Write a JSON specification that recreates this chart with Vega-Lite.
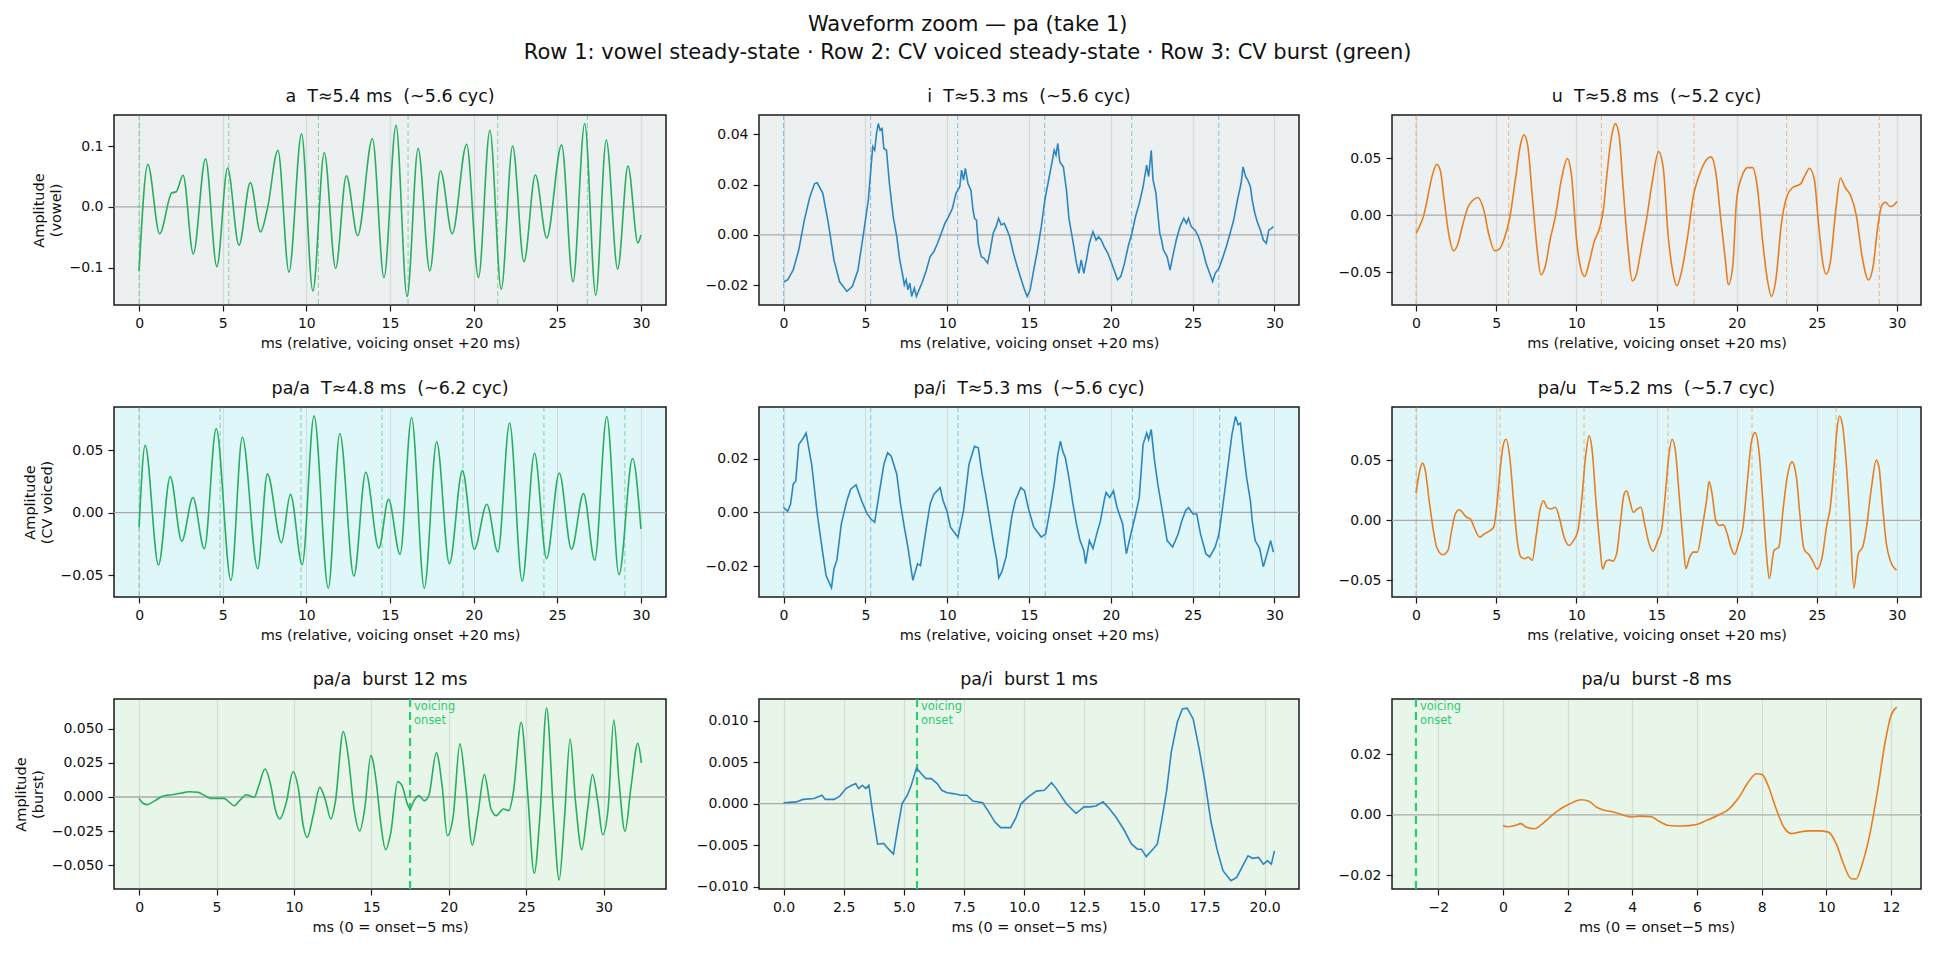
{
"$schema": "https://vega.github.io/schema/vega-lite/v6.json",
"background": "white",
"padding": {"left": 12, "top": 14, "right": 10, "bottom": 8},
"title": {"text": ["Waveform zoom — pa (take 1)", "Row 1: vowel steady-state · Row 2: CV voiced steady-state · Row 3: CV burst (green)"], "fontSize": 21, "fontWeight": "normal", "lineHeight": 28, "anchor": "middle", "offset": 24, "color": "#111"},
"config": {
 "font": "DejaVu Sans",
 "view": {"stroke": "#1a1a1a", "strokeWidth": 1.5},
 "axis": {"domain": false, "tickColor": "#1a1a1a", "tickSize": 6, "tickWidth": 1.2, "labelFontSize": 14, "labelColor": "#111", "labelPadding": 5, "titleFontSize": 14.5, "titleFontWeight": "normal", "titleColor": "#111", "titlePadding": 6, "gridColor": "#b0b0b0", "gridOpacity": 0.35, "gridWidth": 1.2, "labelFlush": false, "labelOverlap": false},
 "title": {"fontSize": 17.5, "fontWeight": "normal", "color": "#111", "offset": 9}
},
"datasets": {
"marks": [
{"p":"a","t":0},{"p":"a","t":5.36},{"p":"a","t":10.72},{"p":"a","t":16.08},{"p":"a","t":21.44},{"p":"a","t":26.8},
{"p":"i","t":0},{"p":"i","t":5.32},{"p":"i","t":10.64},{"p":"i","t":15.96},{"p":"i","t":21.28},{"p":"i","t":26.6},
{"p":"u","t":0},{"p":"u","t":5.78},{"p":"u","t":11.56},{"p":"u","t":17.34},{"p":"u","t":23.12},{"p":"u","t":28.9},
{"p":"Ca","t":0},{"p":"Ca","t":4.84},{"p":"Ca","t":9.68},{"p":"Ca","t":14.52},{"p":"Ca","t":19.36},{"p":"Ca","t":24.2},{"p":"Ca","t":29.04},
{"p":"Ci","t":0},{"p":"Ci","t":5.33},{"p":"Ci","t":10.66},{"p":"Ci","t":15.99},{"p":"Ci","t":21.32},{"p":"Ci","t":26.65},
{"p":"Cu","t":0},{"p":"Cu","t":5.24},{"p":"Cu","t":10.48},{"p":"Cu","t":15.72},{"p":"Cu","t":20.96},{"p":"Cu","t":26.2},
{"p":"Ba","t":17.5},{"p":"Bi","t":5.55},{"p":"Bu","t":-2.69}
],
"wave": [
{"p":"a","t":0,"v":-0.105},{"p":"a","t":0.52,"v":0.070},{"p":"a","t":1.23,"v":-0.044},{"p":"a","t":1.95,"v":0.023},{"p":"a","t":2.22,"v":0.025},{"p":"a","t":2.63,"v":0.052},{"p":"a","t":3.24,"v":-0.077},{"p":"a","t":3.97,"v":0.079},{"p":"a","t":4.65,"v":-0.098},{"p":"a","t":5.29,"v":0.064},{"p":"a","t":5.97,"v":-0.063},{"p":"a","t":6.65,"v":0.040},{"p":"a","t":7.26,"v":-0.041},{"p":"a","t":7.67,"v":-0.003},{"p":"a","t":8.30,"v":0.093},{"p":"a","t":8.96,"v":-0.107},{"p":"a","t":9.71,"v":0.120},{"p":"a","t":10.39,"v":-0.138},{"p":"a","t":11.07,"v":0.089},{"p":"a","t":11.75,"v":-0.101},{"p":"a","t":12.39,"v":0.051},{"p":"a","t":13.07,"v":-0.047},{"p":"a","t":13.95,"v":0.112},{"p":"a","t":14.64,"v":-0.116},{"p":"a","t":15.36,"v":0.134},{"p":"a","t":16.02,"v":-0.147},{"p":"a","t":16.68,"v":0.096},{"p":"a","t":17.38,"v":-0.105},{"p":"a","t":18.02,"v":0.059},{"p":"a","t":18.72,"v":-0.044},{"p":"a","t":19.58,"v":0.103},{"p":"a","t":20.29,"v":-0.116},{"p":"a","t":20.97,"v":0.126},{"p":"a","t":21.65,"v":-0.135},{"p":"a","t":22.33,"v":0.100},{"p":"a","t":23.01,"v":-0.090},{"p":"a","t":23.69,"v":0.053},{"p":"a","t":24.37,"v":-0.051},{"p":"a","t":25.26,"v":0.102},{"p":"a","t":25.94,"v":-0.123},{"p":"a","t":26.64,"v":0.137},{"p":"a","t":27.30,"v":-0.145},{"p":"a","t":27.93,"v":0.110},{"p":"a","t":28.61,"v":-0.102},{"p":"a","t":29.23,"v":0.067},{"p":"a","t":29.82,"v":-0.059},{"p":"a","t":30.0,"v":-0.046},
{"p":"i","t":0,"v":-0.0187},{"p":"i","t":0.25,"v":-0.0178},{"p":"i","t":0.59,"v":-0.0139},{"p":"i","t":0.93,"v":-0.0059},{"p":"i","t":1.27,"v":0.0059},{"p":"i","t":1.61,"v":0.0152},{"p":"i","t":1.90,"v":0.0204},{"p":"i","t":2.06,"v":0.0207},{"p":"i","t":2.40,"v":0.0165},{"p":"i","t":2.74,"v":0.0046},{"p":"i","t":3.08,"v":-0.0099},{"p":"i","t":3.42,"v":-0.0185},{"p":"i","t":3.87,"v":-0.0224},{"p":"i","t":4.21,"v":-0.0204},{"p":"i","t":4.55,"v":-0.0139},{"p":"i","t":4.89,"v":0.0007},{"p":"i","t":5.18,"v":0.0139},{"p":"i","t":5.45,"v":0.0350},{"p":"i","t":5.57,"v":0.0336},{"p":"i","t":5.68,"v":0.0402},{"p":"i","t":5.79,"v":0.0442},{"p":"i","t":5.90,"v":0.0416},{"p":"i","t":6.02,"v":0.0422},{"p":"i","t":6.13,"v":0.0343},{"p":"i","t":6.29,"v":0.0336},{"p":"i","t":6.47,"v":0.0204},{"p":"i","t":6.70,"v":0.0073},{"p":"i","t":6.92,"v":-0.0007},{"p":"i","t":7.10,"v":-0.0099},{"p":"i","t":7.26,"v":-0.0152},{"p":"i","t":7.38,"v":-0.0198},{"p":"i","t":7.49,"v":-0.0178},{"p":"i","t":7.60,"v":-0.0218},{"p":"i","t":7.72,"v":-0.0191},{"p":"i","t":7.83,"v":-0.0244},{"p":"i","t":7.99,"v":-0.0211},{"p":"i","t":8.12,"v":-0.0244},{"p":"i","t":8.28,"v":-0.0218},{"p":"i","t":8.46,"v":-0.0191},{"p":"i","t":8.73,"v":-0.0139},{"p":"i","t":8.96,"v":-0.0086},{"p":"i","t":9.19,"v":-0.0066},{"p":"i","t":9.41,"v":-0.0033},{"p":"i","t":9.64,"v":0.0007},{"p":"i","t":9.86,"v":0.0046},{"p":"i","t":10.09,"v":0.0073},{"p":"i","t":10.32,"v":0.0106},{"p":"i","t":10.54,"v":0.0165},{"p":"i","t":10.77,"v":0.0191},{"p":"i","t":10.88,"v":0.0257},{"p":"i","t":11.0,"v":0.0218},{"p":"i","t":11.11,"v":0.0264},{"p":"i","t":11.27,"v":0.0204},{"p":"i","t":11.45,"v":0.0178},{"p":"i","t":11.58,"v":0.0099},{"p":"i","t":11.67,"v":0.0066},{"p":"i","t":11.79,"v":0.0059},{"p":"i","t":11.90,"v":-0.0033},{"p":"i","t":12.08,"v":-0.0086},{"p":"i","t":12.24,"v":-0.0092},{"p":"i","t":12.47,"v":-0.0112},{"p":"i","t":12.62,"v":-0.0066},{"p":"i","t":12.81,"v":0.0007},{"p":"i","t":12.99,"v":0.0033},{"p":"i","t":13.14,"v":0.0066},{"p":"i","t":13.30,"v":0.0040},{"p":"i","t":13.48,"v":0.0046},{"p":"i","t":13.66,"v":0.0020},{"p":"i","t":13.82,"v":-0.0007},{"p":"i","t":14.05,"v":-0.0073},{"p":"i","t":14.28,"v":-0.0125},{"p":"i","t":14.50,"v":-0.0172},{"p":"i","t":14.73,"v":-0.0218},{"p":"i","t":14.89,"v":-0.0244},{"p":"i","t":15.07,"v":-0.0218},{"p":"i","t":15.29,"v":-0.0139},{"p":"i","t":15.52,"v":-0.0059},{"p":"i","t":15.75,"v":0.0033},{"p":"i","t":15.97,"v":0.0139},{"p":"i","t":16.20,"v":0.0218},{"p":"i","t":16.43,"v":0.0297},{"p":"i","t":16.54,"v":0.0336},{"p":"i","t":16.65,"v":0.0317},{"p":"i","t":16.76,"v":0.0363},{"p":"i","t":16.88,"v":0.0290},{"p":"i","t":17.10,"v":0.0270},{"p":"i","t":17.29,"v":0.0178},{"p":"i","t":17.44,"v":0.0066},{"p":"i","t":17.67,"v":-0.0020},{"p":"i","t":17.90,"v":-0.0112},{"p":"i","t":18.05,"v":-0.0152},{"p":"i","t":18.19,"v":-0.0099},{"p":"i","t":18.35,"v":-0.0152},{"p":"i","t":18.51,"v":-0.0099},{"p":"i","t":18.69,"v":-0.0033},{"p":"i","t":18.91,"v":0.0013},{"p":"i","t":19.10,"v":-0.0020},{"p":"i","t":19.25,"v":-0.0007},{"p":"i","t":19.41,"v":-0.0020},{"p":"i","t":19.59,"v":-0.0046},{"p":"i","t":19.82,"v":-0.0073},{"p":"i","t":20.05,"v":-0.0112},{"p":"i","t":20.23,"v":-0.0145},{"p":"i","t":20.41,"v":-0.0178},{"p":"i","t":20.61,"v":-0.0165},{"p":"i","t":20.84,"v":-0.0112},{"p":"i","t":21.06,"v":-0.0046},{"p":"i","t":21.29,"v":0.0007},{"p":"i","t":21.51,"v":0.0073},{"p":"i","t":21.74,"v":0.0125},{"p":"i","t":21.97,"v":0.0191},{"p":"i","t":22.19,"v":0.0277},{"p":"i","t":22.31,"v":0.0231},{"p":"i","t":22.47,"v":0.0336},{"p":"i","t":22.58,"v":0.0218},{"p":"i","t":22.76,"v":0.0165},{"p":"i","t":22.87,"v":0.0086},{"p":"i","t":22.99,"v":0.0007},{"p":"i","t":23.10,"v":-0.0020},{"p":"i","t":23.21,"v":-0.0059},{"p":"i","t":23.44,"v":-0.0086},{"p":"i","t":23.62,"v":-0.0139},{"p":"i","t":23.78,"v":-0.0086},{"p":"i","t":24.0,"v":-0.0020},{"p":"i","t":24.23,"v":0.0033},{"p":"i","t":24.46,"v":0.0066},{"p":"i","t":24.62,"v":0.0046},{"p":"i","t":24.75,"v":0.0066},{"p":"i","t":24.91,"v":0.0033},{"p":"i","t":25.14,"v":0.0020},{"p":"i","t":25.36,"v":-0.0007},{"p":"i","t":25.59,"v":-0.0053},{"p":"i","t":25.82,"v":-0.0112},{"p":"i","t":26.04,"v":-0.0152},{"p":"i","t":26.22,"v":-0.0185},{"p":"i","t":26.38,"v":-0.0152},{"p":"i","t":26.61,"v":-0.0132},{"p":"i","t":26.83,"v":-0.0092},{"p":"i","t":27.06,"v":-0.0046},{"p":"i","t":27.29,"v":0.0007},{"p":"i","t":27.51,"v":0.0059},{"p":"i","t":27.74,"v":0.0139},{"p":"i","t":27.96,"v":0.0204},{"p":"i","t":28.08,"v":0.0270},{"p":"i","t":28.24,"v":0.0231},{"p":"i","t":28.37,"v":0.0218},{"p":"i","t":28.53,"v":0.0191},{"p":"i","t":28.64,"v":0.0139},{"p":"i","t":28.80,"v":0.0086},{"p":"i","t":28.98,"v":0.0046},{"p":"i","t":29.14,"v":0.0020},{"p":"i","t":29.32,"v":-0.0020},{"p":"i","t":29.50,"v":-0.0033},{"p":"i","t":29.66,"v":0.0020},{"p":"i","t":29.82,"v":0.0026},{"p":"i","t":29.93,"v":0.0033},
{"p":"u","t":0,"v":-0.0161},{"p":"u","t":0.23,"v":-0.0094},{"p":"u","t":0.47,"v":-0.0006},{"p":"u","t":0.70,"v":0.0140},{"p":"u","t":0.98,"v":0.0330},{"p":"u","t":1.29,"v":0.0447},{"p":"u","t":1.52,"v":0.0389},{"p":"u","t":1.75,"v":0.0140},{"p":"u","t":2.06,"v":-0.0181},{"p":"u","t":2.34,"v":-0.0313},{"p":"u","t":2.57,"v":-0.0269},{"p":"u","t":2.92,"v":-0.0079},{"p":"u","t":3.23,"v":0.0067},{"p":"u","t":3.51,"v":0.0126},{"p":"u","t":3.86,"v":0.0155},{"p":"u","t":4.21,"v":0.0053},{"p":"u","t":4.56,"v":-0.0181},{"p":"u","t":4.91,"v":-0.0313},{"p":"u","t":5.19,"v":-0.0298},{"p":"u","t":5.49,"v":-0.0211},{"p":"u","t":5.85,"v":-0.0020},{"p":"u","t":6.20,"v":0.0316},{"p":"u","t":6.50,"v":0.0608},{"p":"u","t":6.73,"v":0.0705},{"p":"u","t":6.97,"v":0.0608},{"p":"u","t":7.25,"v":0.0170},{"p":"u","t":7.53,"v":-0.0269},{"p":"u","t":7.79,"v":-0.0523},{"p":"u","t":8.07,"v":-0.0444},{"p":"u","t":8.37,"v":-0.0211},{"p":"u","t":8.70,"v":-0.0006},{"p":"u","t":9.07,"v":0.0316},{"p":"u","t":9.44,"v":0.0497},{"p":"u","t":9.70,"v":0.0345},{"p":"u","t":10.01,"v":-0.0211},{"p":"u","t":10.29,"v":-0.0474},{"p":"u","t":10.52,"v":-0.0538},{"p":"u","t":10.80,"v":-0.0415},{"p":"u","t":11.10,"v":-0.0240},{"p":"u","t":11.46,"v":-0.0108},{"p":"u","t":11.69,"v":0.0053},{"p":"u","t":11.92,"v":0.0374},{"p":"u","t":12.20,"v":0.0696},{"p":"u","t":12.44,"v":0.0804},{"p":"u","t":12.67,"v":0.0696},{"p":"u","t":12.91,"v":0.0257},{"p":"u","t":13.21,"v":-0.0269},{"p":"u","t":13.49,"v":-0.0576},{"p":"u","t":13.75,"v":-0.0518},{"p":"u","t":14.08,"v":-0.0269},{"p":"u","t":14.38,"v":-0.0035},{"p":"u","t":14.73,"v":0.0287},{"p":"u","t":15.13,"v":0.0558},{"p":"u","t":15.43,"v":0.0404},{"p":"u","t":15.71,"v":-0.0152},{"p":"u","t":16.02,"v":-0.0503},{"p":"u","t":16.27,"v":-0.0620},{"p":"u","t":16.55,"v":-0.0503},{"p":"u","t":16.95,"v":-0.0181},{"p":"u","t":17.30,"v":0.0170},{"p":"u","t":17.65,"v":0.0345},{"p":"u","t":18.00,"v":0.0462},{"p":"u","t":18.40,"v":0.0512},{"p":"u","t":18.70,"v":0.0374},{"p":"u","t":19.01,"v":-0.0035},{"p":"u","t":19.29,"v":-0.0386},{"p":"u","t":19.48,"v":-0.0611},{"p":"u","t":19.76,"v":-0.0444},{"p":"u","t":20.00,"v":0.0140},{"p":"u","t":20.34,"v":0.0345},{"p":"u","t":20.69,"v":0.0418},{"p":"u","t":21.0,"v":0.0418},{"p":"u","t":21.28,"v":0.0257},{"p":"u","t":21.63,"v":-0.0240},{"p":"u","t":21.91,"v":-0.0561},{"p":"u","t":22.17,"v":-0.0713},{"p":"u","t":22.45,"v":-0.0561},{"p":"u","t":22.80,"v":-0.0064},{"p":"u","t":23.15,"v":0.0170},{"p":"u","t":23.50,"v":0.0243},{"p":"u","t":23.97,"v":0.0272},{"p":"u","t":24.25,"v":0.0345},{"p":"u","t":24.55,"v":0.0412},{"p":"u","t":24.84,"v":0.0316},{"p":"u","t":25.14,"v":-0.0123},{"p":"u","t":25.37,"v":-0.0415},{"p":"u","t":25.58,"v":-0.0518},{"p":"u","t":25.84,"v":-0.0415},{"p":"u","t":26.19,"v":0.0053},{"p":"u","t":26.47,"v":0.0325},{"p":"u","t":26.77,"v":0.0243},{"p":"u","t":27.12,"v":0.0170},{"p":"u","t":27.47,"v":-0.0006},{"p":"u","t":27.82,"v":-0.0357},{"p":"u","t":28.22,"v":-0.0570},{"p":"u","t":28.52,"v":-0.0444},{"p":"u","t":28.81,"v":-0.0094},{"p":"u","t":29.04,"v":0.0082},{"p":"u","t":29.27,"v":0.0114},{"p":"u","t":29.58,"v":0.0076},{"p":"u","t":29.81,"v":0.0088},{"p":"u","t":30.0,"v":0.0120},
{"p":"Ca","t":0,"v":-0.0116},{"p":"Ca","t":0.36,"v":0.0539},{"p":"Ca","t":1.16,"v":-0.042},{"p":"Ca","t":1.86,"v":0.0289},{"p":"Ca","t":2.55,"v":-0.0228},{"p":"Ca","t":3.22,"v":0.0121},{"p":"Ca","t":3.9,"v":-0.029},{"p":"Ca","t":4.61,"v":0.0674},{"p":"Ca","t":5.49,"v":-0.0543},{"p":"Ca","t":6.17,"v":0.0605},{"p":"Ca","t":7.09,"v":-0.0449},{"p":"Ca","t":7.67,"v":0.0311},{"p":"Ca","t":8.51,"v":-0.024},{"p":"Ca","t":9.05,"v":0.0147},{"p":"Ca","t":9.75,"v":-0.0417},{"p":"Ca","t":10.46,"v":0.0776},{"p":"Ca","t":11.31,"v":-0.0605},{"p":"Ca","t":12.0,"v":0.0634},{"p":"Ca","t":12.84,"v":-0.0508},{"p":"Ca","t":13.55,"v":0.0324},{"p":"Ca","t":14.33,"v":-0.0285},{"p":"Ca","t":14.91,"v":0.0108},{"p":"Ca","t":15.6,"v":-0.0333},{"p":"Ca","t":16.29,"v":0.0763},{"p":"Ca","t":17.05,"v":-0.0605},{"p":"Ca","t":17.79,"v":0.0568},{"p":"Ca","t":18.55,"v":-0.0409},{"p":"Ca","t":19.33,"v":0.0337},{"p":"Ca","t":20.04,"v":-0.0293},{"p":"Ca","t":20.79,"v":0.0068},{"p":"Ca","t":21.45,"v":-0.0315},{"p":"Ca","t":22.15,"v":0.0718},{"p":"Ca","t":22.9,"v":-0.0548},{"p":"Ca","t":23.64,"v":0.0476},{"p":"Ca","t":24.36,"v":-0.0368},{"p":"Ca","t":25.12,"v":0.0318},{"p":"Ca","t":25.85,"v":-0.0293},{"p":"Ca","t":26.57,"v":0.0153},{"p":"Ca","t":27.24,"v":-0.0382},{"p":"Ca","t":27.96,"v":0.0771},{"p":"Ca","t":28.69,"v":-0.0497},{"p":"Ca","t":29.5,"v":0.0434},{"p":"Ca","t":30.0,"v":-0.013},
{"p":"Ci","t":0,"v":0.0018},{"p":"Ci","t":0.25,"v":0.0004},{"p":"Ci","t":0.43,"v":0.0031},{"p":"Ci","t":0.59,"v":0.0105},{"p":"Ci","t":0.75,"v":0.0117},{"p":"Ci","t":0.93,"v":0.0252},{"p":"Ci","t":1.15,"v":0.0271},{"p":"Ci","t":1.38,"v":0.0295},{"p":"Ci","t":1.72,"v":0.0178},{"p":"Ci","t":2.06,"v":-0.0006},{"p":"Ci","t":2.40,"v":-0.0154},{"p":"Ci","t":2.6,"v":-0.0235},{"p":"Ci","t":2.93,"v":-0.0281},{"p":"Ci","t":3.08,"v":-0.021},{"p":"Ci","t":3.26,"v":-0.0178},{"p":"Ci","t":3.53,"v":-0.0043},{"p":"Ci","t":3.87,"v":0.0043},{"p":"Ci","t":4.10,"v":0.0086},{"p":"Ci","t":4.43,"v":0.0102},{"p":"Ci","t":4.77,"v":0.0043},{"p":"Ci","t":5.11,"v":-0.0006},{"p":"Ci","t":5.34,"v":-0.0025},{"p":"Ci","t":5.57,"v":-0.0037},{"p":"Ci","t":5.90,"v":0.0092},{"p":"Ci","t":6.13,"v":0.0178},{"p":"Ci","t":6.36,"v":0.0222},{"p":"Ci","t":6.58,"v":0.0209},{"p":"Ci","t":6.92,"v":0.0142},{"p":"Ci","t":7.15,"v":0.0031},{"p":"Ci","t":7.38,"v":-0.0055},{"p":"Ci","t":7.60,"v":-0.0129},{"p":"Ci","t":7.9,"v":-0.0253},{"p":"Ci","t":8.19,"v":-0.0191},{"p":"Ci","t":8.37,"v":-0.0198},{"p":"Ci","t":8.73,"v":-0.0055},{"p":"Ci","t":8.96,"v":0.0031},{"p":"Ci","t":9.19,"v":0.0068},{"p":"Ci","t":9.57,"v":0.0092},{"p":"Ci","t":9.75,"v":0.0043},{"p":"Ci","t":9.98,"v":0.0006},{"p":"Ci","t":10.20,"v":-0.0055},{"p":"Ci","t":10.43,"v":-0.0074},{"p":"Ci","t":10.66,"v":-0.0092},{"p":"Ci","t":11.0,"v":0.0006},{"p":"Ci","t":11.33,"v":0.0178},{"p":"Ci","t":11.67,"v":0.0246},{"p":"Ci","t":11.90,"v":0.0240},{"p":"Ci","t":12.13,"v":0.0142},{"p":"Ci","t":12.35,"v":0.0068},{"p":"Ci","t":12.58,"v":-0.0018},{"p":"Ci","t":12.81,"v":-0.0105},{"p":"Ci","t":13.03,"v":-0.0178},{"p":"Ci","t":13.15,"v":-0.0244},{"p":"Ci","t":13.35,"v":-0.022},{"p":"Ci","t":13.60,"v":-0.0166},{"p":"Ci","t":13.94,"v":-0.0018},{"p":"Ci","t":14.16,"v":0.0043},{"p":"Ci","t":14.50,"v":0.0092},{"p":"Ci","t":14.73,"v":0.0080},{"p":"Ci","t":14.95,"v":0.0018},{"p":"Ci","t":15.29,"v":-0.0055},{"p":"Ci","t":15.75,"v":-0.0092},{"p":"Ci","t":16.02,"v":-0.0080},{"p":"Ci","t":16.31,"v":0.0018},{"p":"Ci","t":16.54,"v":0.0105},{"p":"Ci","t":16.76,"v":0.0215},{"p":"Ci","t":16.92,"v":0.0265},{"p":"Ci","t":17.06,"v":0.0228},{"p":"Ci","t":17.22,"v":0.0203},{"p":"Ci","t":17.44,"v":0.0129},{"p":"Ci","t":17.67,"v":0.0037},{"p":"Ci","t":17.90,"v":-0.0043},{"p":"Ci","t":18.12,"v":-0.0105},{"p":"Ci","t":18.35,"v":-0.0142},{"p":"Ci","t":18.46,"v":-0.0191},{"p":"Ci","t":18.69,"v":-0.0105},{"p":"Ci","t":18.91,"v":-0.0135},{"p":"Ci","t":19.14,"v":-0.0080},{"p":"Ci","t":19.37,"v":-0.0031},{"p":"Ci","t":19.59,"v":0.0043},{"p":"Ci","t":19.71,"v":0.0074},{"p":"Ci","t":19.93,"v":0.0055},{"p":"Ci","t":20.16,"v":0.0080},{"p":"Ci","t":20.38,"v":0.0018},{"p":"Ci","t":20.72,"v":-0.0043},{"p":"Ci","t":20.95,"v":-0.0154},{"p":"Ci","t":21.18,"v":-0.0092},{"p":"Ci","t":21.52,"v":-0.0006},{"p":"Ci","t":21.74,"v":0.0055},{"p":"Ci","t":21.97,"v":0.0252},{"p":"Ci","t":22.19,"v":0.0295},{"p":"Ci","t":22.31,"v":0.0271},{"p":"Ci","t":22.47,"v":0.0308},{"p":"Ci","t":22.65,"v":0.0203},{"p":"Ci","t":22.87,"v":0.0105},{"p":"Ci","t":23.21,"v":-0.0018},{"p":"Ci","t":23.44,"v":-0.0105},{"p":"Ci","t":23.78,"v":-0.0129},{"p":"Ci","t":24.12,"v":-0.0080},{"p":"Ci","t":24.34,"v":-0.0031},{"p":"Ci","t":24.57,"v":0.0006},{"p":"Ci","t":24.75,"v":0.0018},{"p":"Ci","t":25.02,"v":-0.0006},{"p":"Ci","t":25.25,"v":-0.0006},{"p":"Ci","t":25.48,"v":-0.0080},{"p":"Ci","t":25.81,"v":-0.0154},{"p":"Ci","t":26.04,"v":-0.0166},{"p":"Ci","t":26.38,"v":-0.0129},{"p":"Ci","t":26.61,"v":-0.0080},{"p":"Ci","t":26.83,"v":0.0018},{"p":"Ci","t":27.17,"v":0.0178},{"p":"Ci","t":27.40,"v":0.0289},{"p":"Ci","t":27.62,"v":0.0357},{"p":"Ci","t":27.78,"v":0.0326},{"p":"Ci","t":27.92,"v":0.0332},{"p":"Ci","t":28.08,"v":0.0240},{"p":"Ci","t":28.30,"v":0.0129},{"p":"Ci","t":28.53,"v":0.0043},{"p":"Ci","t":28.64,"v":-0.0031},{"p":"Ci","t":28.82,"v":-0.0105},{"p":"Ci","t":29.10,"v":-0.0135},{"p":"Ci","t":29.32,"v":-0.0203},{"p":"Ci","t":29.55,"v":-0.0154},{"p":"Ci","t":29.77,"v":-0.0105},{"p":"Ci","t":29.93,"v":-0.0148},
{"p":"Cu","t":0,"v":0.0224},{"p":"Cu","t":0.23,"v":0.0412},{"p":"Cu","t":0.40,"v":0.0475},{"p":"Cu","t":0.58,"v":0.0412},{"p":"Cu","t":0.82,"v":0.0163},{"p":"Cu","t":1.05,"v":-0.0058},{"p":"Cu","t":1.29,"v":-0.0224},{"p":"Cu","t":1.67,"v":-0.0287},{"p":"Cu","t":1.99,"v":-0.0251},{"p":"Cu","t":2.22,"v":-0.0086},{"p":"Cu","t":2.45,"v":0.0052},{"p":"Cu","t":2.69,"v":0.0088},{"p":"Cu","t":3.16,"v":0.0025},{"p":"Cu","t":3.39,"v":0.0011},{"p":"Cu","t":3.62,"v":-0.0058},{"p":"Cu","t":3.97,"v":-0.0141},{"p":"Cu","t":4.26,"v":-0.0113},{"p":"Cu","t":4.56,"v":-0.0091},{"p":"Cu","t":4.84,"v":-0.0058},{"p":"Cu","t":5.03,"v":0.0108},{"p":"Cu","t":5.26,"v":0.0439},{"p":"Cu","t":5.45,"v":0.0633},{"p":"Cu","t":5.61,"v":0.0674},{"p":"Cu","t":5.85,"v":0.0522},{"p":"Cu","t":6.08,"v":0.0163},{"p":"Cu","t":6.31,"v":-0.0169},{"p":"Cu","t":6.55,"v":-0.0307},{"p":"Cu","t":6.78,"v":-0.0320},{"p":"Cu","t":7.0,"v":-0.0305},{"p":"Cu","t":7.25,"v":-0.0334},{"p":"Cu","t":7.48,"v":-0.0141},{"p":"Cu","t":7.72,"v":0.0080},{"p":"Cu","t":7.95,"v":0.0163},{"p":"Cu","t":8.18,"v":0.0105},{"p":"Cu","t":8.42,"v":0.0094},{"p":"Cu","t":8.70,"v":0.0108},{"p":"Cu","t":8.93,"v":0.0025},{"p":"Cu","t":9.24,"v":-0.0141},{"p":"Cu","t":9.54,"v":-0.0210},{"p":"Cu","t":9.82,"v":-0.0169},{"p":"Cu","t":10.10,"v":-0.0086},{"p":"Cu","t":10.33,"v":0.0163},{"p":"Cu","t":10.57,"v":0.0522},{"p":"Cu","t":10.80,"v":0.0702},{"p":"Cu","t":10.99,"v":0.0577},{"p":"Cu","t":11.22,"v":0.0163},{"p":"Cu","t":11.46,"v":-0.0196},{"p":"Cu","t":11.64,"v":-0.0405},{"p":"Cu","t":11.85,"v":-0.0340},{"p":"Cu","t":12.04,"v":-0.0329},{"p":"Cu","t":12.27,"v":-0.034},{"p":"Cu","t":12.51,"v":-0.0279},{"p":"Cu","t":12.74,"v":-0.0030},{"p":"Cu","t":12.98,"v":0.0218},{"p":"Cu","t":13.14,"v":0.0246},{"p":"Cu","t":13.33,"v":0.0163},{"p":"Cu","t":13.56,"v":0.0066},{"p":"Cu","t":13.79,"v":0.0094},{"p":"Cu","t":14.03,"v":0.0108},{"p":"Cu","t":14.26,"v":-0.0030},{"p":"Cu","t":14.54,"v":-0.0196},{"p":"Cu","t":14.78,"v":-0.0257},{"p":"Cu","t":15.08,"v":-0.0169},{"p":"Cu","t":15.31,"v":-0.0086},{"p":"Cu","t":15.55,"v":0.0218},{"p":"Cu","t":15.78,"v":0.0550},{"p":"Cu","t":15.97,"v":0.0674},{"p":"Cu","t":16.18,"v":0.0577},{"p":"Cu","t":16.41,"v":0.0218},{"p":"Cu","t":16.65,"v":-0.0169},{"p":"Cu","t":16.83,"v":-0.0403},{"p":"Cu","t":17.07,"v":-0.0307},{"p":"Cu","t":17.30,"v":-0.0265},{"p":"Cu","t":17.54,"v":-0.0265},{"p":"Cu","t":17.89,"v":-0.0030},{"p":"Cu","t":18.12,"v":0.0163},{"p":"Cu","t":18.28,"v":0.0323},{"p":"Cu","t":18.47,"v":0.0218},{"p":"Cu","t":18.70,"v":-0.0003},{"p":"Cu","t":18.94,"v":-0.0044},{"p":"Cu","t":19.17,"v":-0.0036},{"p":"Cu","t":19.41,"v":-0.0113},{"p":"Cu","t":19.64,"v":-0.0224},{"p":"Cu","t":19.87,"v":-0.0285},{"p":"Cu","t":20.11,"v":-0.0196},{"p":"Cu","t":20.39,"v":-0.0058},{"p":"Cu","t":20.69,"v":0.0356},{"p":"Cu","t":20.93,"v":0.0660},{"p":"Cu","t":21.16,"v":0.0729},{"p":"Cu","t":21.39,"v":0.0577},{"p":"Cu","t":21.63,"v":0.0163},{"p":"Cu","t":21.86,"v":-0.0279},{"p":"Cu","t":22.04,"v":-0.0486},{"p":"Cu","t":22.33,"v":-0.0251},{"p":"Cu","t":22.63,"v":-0.0224},{"p":"Cu","t":22.91,"v":0.0108},{"p":"Cu","t":23.15,"v":0.0356},{"p":"Cu","t":23.45,"v":0.0486},{"p":"Cu","t":23.73,"v":0.0356},{"p":"Cu","t":23.96,"v":0.0025},{"p":"Cu","t":24.20,"v":-0.0238},{"p":"Cu","t":24.55,"v":-0.0293},{"p":"Cu","t":24.78,"v":-0.0348},{"p":"Cu","t":25.02,"v":-0.0406},{"p":"Cu","t":25.37,"v":-0.0279},{"p":"Cu","t":25.60,"v":-0.0058},{"p":"Cu","t":25.84,"v":0.0108},{"p":"Cu","t":26.07,"v":0.0439},{"p":"Cu","t":26.23,"v":0.0715},{"p":"Cu","t":26.42,"v":0.0867},{"p":"Cu","t":26.61,"v":0.0785},{"p":"Cu","t":26.84,"v":0.0467},{"p":"Cu","t":27.08,"v":-0.0030},{"p":"Cu","t":27.31,"v":-0.0564},{"p":"Cu","t":27.59,"v":-0.0279},{"p":"Cu","t":27.87,"v":-0.0218},{"p":"Cu","t":28.10,"v":-0.0058},{"p":"Cu","t":28.41,"v":0.0273},{"p":"Cu","t":28.71,"v":0.0500},{"p":"Cu","t":28.88,"v":0.0439},{"p":"Cu","t":29.11,"v":0.0108},{"p":"Cu","t":29.34,"v":-0.0196},{"p":"Cu","t":29.58,"v":-0.0334},{"p":"Cu","t":29.97,"v":-0.0414},
{"p":"Ba","t":0,"v":-0.001},{"p":"Ba","t":0.23,"v":-0.0044},{"p":"Ba","t":0.52,"v":-0.0056},{"p":"Ba","t":0.95,"v":-0.0032},{"p":"Ba","t":1.53,"v":0.0005},{"p":"Ba","t":2.1,"v":0.0017},{"p":"Ba","t":2.67,"v":0.0027},{"p":"Ba","t":3.24,"v":0.0039},{"p":"Ba","t":3.82,"v":0.0034},{"p":"Ba","t":4.25,"v":0.0010},{"p":"Ba","t":4.63,"v":-0.0010},{"p":"Ba","t":5.06,"v":-0.0010},{"p":"Ba","t":5.49,"v":-0.0010},{"p":"Ba","t":5.78,"v":-0.0034},{"p":"Ba","t":6.15,"v":-0.0064},{"p":"Ba","t":6.49,"v":-0.0027},{"p":"Ba","t":6.93,"v":0.0017},{"p":"Ba","t":7.21,"v":0.0005},{"p":"Ba","t":7.44,"v":-0.0002},{"p":"Ba","t":7.73,"v":0.0083},{"p":"Ba","t":8.13,"v":0.0206},{"p":"Ba","t":8.51,"v":0.0083},{"p":"Ba","t":8.79,"v":-0.0088},{"p":"Ba","t":9.08,"v":-0.0162},{"p":"Ba","t":9.51,"v":-0.0039},{"p":"Ba","t":9.94,"v":0.0186},{"p":"Ba","t":10.29,"v":0.0059},{"p":"Ba","t":10.60,"v":-0.0211},{"p":"Ba","t":10.86,"v":-0.0297},{"p":"Ba","t":11.24,"v":-0.0137},{"p":"Ba","t":11.67,"v":0.0071},{"p":"Ba","t":12.04,"v":-0.0027},{"p":"Ba","t":12.39,"v":-0.0162},{"p":"Ba","t":12.67,"v":-0.0039},{"p":"Ba","t":13.19,"v":0.0480},{"p":"Ba","t":13.53,"v":0.0279},{"p":"Ba","t":13.88,"v":-0.0088},{"p":"Ba","t":14.25,"v":-0.0250},{"p":"Ba","t":14.57,"v":-0.0088},{"p":"Ba","t":14.97,"v":0.0304},{"p":"Ba","t":15.32,"v":0.0108},{"p":"Ba","t":15.60,"v":-0.0186},{"p":"Ba","t":15.92,"v":-0.0387},{"p":"Ba","t":16.26,"v":-0.0260},{"p":"Ba","t":16.70,"v":0.0113},{"p":"Ba","t":16.98,"v":0.0083},{"p":"Ba","t":17.33,"v":-0.0051},{"p":"Ba","t":17.50,"v":-0.0088},{"p":"Ba","t":17.70,"v":-0.0039},{"p":"Ba","t":18.07,"v":0.0010},{"p":"Ba","t":18.42,"v":-0.0027},{"p":"Ba","t":18.71,"v":0.0010},{"p":"Ba","t":19.20,"v":0.0324},{"p":"Ba","t":19.57,"v":0.0083},{"p":"Ba","t":19.91,"v":-0.0284},{"p":"Ba","t":20.29,"v":-0.0137},{"p":"Ba","t":20.72,"v":0.0390},{"p":"Ba","t":21.09,"v":0.0083},{"p":"Ba","t":21.52,"v":-0.0353},{"p":"Ba","t":21.87,"v":-0.0137},{"p":"Ba","t":22.30,"v":0.0164},{"p":"Ba","t":22.73,"v":-0.0088},{"p":"Ba","t":23.07,"v":-0.0137},{"p":"Ba","t":23.53,"v":-0.0088},{"p":"Ba","t":23.88,"v":-0.0100},{"p":"Ba","t":24.17,"v":0.0034},{"p":"Ba","t":24.68,"v":0.0549},{"p":"Ba","t":25.09,"v":0.0034},{"p":"Ba","t":25.52,"v":-0.0561},{"p":"Ba","t":25.89,"v":-0.0137},{"p":"Ba","t":26.32,"v":0.0654},{"p":"Ba","t":26.75,"v":-0.0088},{"p":"Ba","t":27.13,"v":-0.0610},{"p":"Ba","t":27.47,"v":-0.0162},{"p":"Ba","t":27.84,"v":0.0426},{"p":"Ba","t":28.19,"v":-0.0039},{"p":"Ba","t":28.59,"v":-0.0387},{"p":"Ba","t":28.97,"v":-0.0088},{"p":"Ba","t":29.28,"v":0.0164},{"p":"Ba","t":29.63,"v":-0.0039},{"p":"Ba","t":29.94,"v":-0.0277},{"p":"Ba","t":30.29,"v":-0.0088},{"p":"Ba","t":30.66,"v":0.0566},{"p":"Ba","t":31.0,"v":0.0108},{"p":"Ba","t":31.38,"v":-0.0252},{"p":"Ba","t":31.78,"v":0.0083},{"p":"Ba","t":32.21,"v":0.0395},{"p":"Ba","t":32.44,"v":0.0250},
{"p":"Bi","t":0,"v":0.0001},{"p":"Bi","t":0.53,"v":0.0002},{"p":"Bi","t":0.81,"v":0.0005},{"p":"Bi","t":1.27,"v":0.0006},{"p":"Bi","t":1.60,"v":0.0010},{"p":"Bi","t":1.73,"v":0.0005},{"p":"Bi","t":2.10,"v":0.0005},{"p":"Bi","t":2.34,"v":0.0009},{"p":"Bi","t":2.59,"v":0.0018},{"p":"Bi","t":2.84,"v":0.0022},{"p":"Bi","t":3.0,"v":0.0024},{"p":"Bi","t":3.12,"v":0.0018},{"p":"Bi","t":3.28,"v":0.0022},{"p":"Bi","t":3.42,"v":0.0018},{"p":"Bi","t":3.55,"v":0.0022},{"p":"Bi","t":3.70,"v":-0.0010},{"p":"Bi","t":3.91,"v":-0.0049},{"p":"Bi","t":4.16,"v":-0.0048},{"p":"Bi","t":4.37,"v":-0.0055},{"p":"Bi","t":4.57,"v":-0.0061},{"p":"Bi","t":4.74,"v":-0.0031},{"p":"Bi","t":4.93,"v":0.0000},{"p":"Bi","t":5.15,"v":0.0010},{"p":"Bi","t":5.31,"v":0.0022},{"p":"Bi","t":5.53,"v":0.0043},{"p":"Bi","t":5.73,"v":0.0036},{"p":"Bi","t":5.92,"v":0.0030},{"p":"Bi","t":6.14,"v":0.0030},{"p":"Bi","t":6.39,"v":0.0024},{"p":"Bi","t":6.58,"v":0.0016},{"p":"Bi","t":6.80,"v":0.0013},{"p":"Bi","t":7.05,"v":0.0012},{"p":"Bi","t":7.38,"v":0.0010},{"p":"Bi","t":7.62,"v":0.0010},{"p":"Bi","t":7.87,"v":0.0003},{"p":"Bi","t":8.28,"v":0.0001},{"p":"Bi","t":8.53,"v":-0.0010},{"p":"Bi","t":8.78,"v":-0.0022},{"p":"Bi","t":9.03,"v":-0.0029},{"p":"Bi","t":9.44,"v":-0.0029},{"p":"Bi","t":9.65,"v":-0.0018},{"p":"Bi","t":9.88,"v":0.0000},{"p":"Bi","t":10.18,"v":0.0008},{"p":"Bi","t":10.51,"v":0.0015},{"p":"Bi","t":10.84,"v":0.0016},{"p":"Bi","t":11.14,"v":0.0025},{"p":"Bi","t":11.34,"v":0.0018},{"p":"Bi","t":11.75,"v":0.0000},{"p":"Bi","t":12.16,"v":-0.0012},{"p":"Bi","t":12.49,"v":-0.0004},{"p":"Bi","t":12.74,"v":-0.0004},{"p":"Bi","t":12.99,"v":-0.0003},{"p":"Bi","t":13.28,"v":0.0002},{"p":"Bi","t":13.48,"v":-0.0004},{"p":"Bi","t":13.81,"v":-0.0016},{"p":"Bi","t":14.14,"v":-0.0031},{"p":"Bi","t":14.47,"v":-0.0049},{"p":"Bi","t":14.72,"v":-0.0055},{"p":"Bi","t":14.88,"v":-0.0055},{"p":"Bi","t":15.08,"v":-0.0064},{"p":"Bi","t":15.30,"v":-0.0057},{"p":"Bi","t":15.54,"v":-0.0049},{"p":"Bi","t":15.71,"v":-0.0022},{"p":"Bi","t":15.92,"v":0.0014},{"p":"Bi","t":16.12,"v":0.0062},{"p":"Bi","t":16.37,"v":0.0098},{"p":"Bi","t":16.58,"v":0.0114},{"p":"Bi","t":16.78,"v":0.0115},{"p":"Bi","t":17.03,"v":0.0102},{"p":"Bi","t":17.28,"v":0.0066},{"p":"Bi","t":17.52,"v":0.0026},{"p":"Bi","t":17.77,"v":-0.0022},{"p":"Bi","t":18.02,"v":-0.0055},{"p":"Bi","t":18.27,"v":-0.0081},{"p":"Bi","t":18.60,"v":-0.0093},{"p":"Bi","t":18.84,"v":-0.0089},{"p":"Bi","t":19.09,"v":-0.0075},{"p":"Bi","t":19.31,"v":-0.0063},{"p":"Bi","t":19.50,"v":-0.0066},{"p":"Bi","t":19.75,"v":-0.0065},{"p":"Bi","t":19.95,"v":-0.0073},{"p":"Bi","t":20.12,"v":-0.0069},{"p":"Bi","t":20.28,"v":-0.0073},{"p":"Bi","t":20.41,"v":-0.0057},
{"p":"Bu","t":0,"v":-0.0035},{"p":"Bu","t":0.13,"v":-0.0039},{"p":"Bu","t":0.37,"v":-0.0035},{"p":"Bu","t":0.55,"v":-0.0029},{"p":"Bu","t":0.73,"v":-0.0041},{"p":"Bu","t":0.98,"v":-0.0046},{"p":"Bu","t":1.16,"v":-0.0035},{"p":"Bu","t":1.40,"v":-0.0013},{"p":"Bu","t":1.70,"v":0.0014},{"p":"Bu","t":2.06,"v":0.0036},{"p":"Bu","t":2.42,"v":0.0050},{"p":"Bu","t":2.66,"v":0.0045},{"p":"Bu","t":2.90,"v":0.0025},{"p":"Bu","t":3.14,"v":0.0015},{"p":"Bu","t":3.45,"v":0.0009},{"p":"Bu","t":3.75,"v":-0.0002},{"p":"Bu","t":3.99,"v":-0.0007},{"p":"Bu","t":4.23,"v":-0.0004},{"p":"Bu","t":4.59,"v":-0.0006},{"p":"Bu","t":4.83,"v":-0.0021},{"p":"Bu","t":5.13,"v":-0.0035},{"p":"Bu","t":5.55,"v":-0.0037},{"p":"Bu","t":5.98,"v":-0.0032},{"p":"Bu","t":6.28,"v":-0.0019},{"p":"Bu","t":6.64,"v":-0.0002},{"p":"Bu","t":7.0,"v":0.0020},{"p":"Bu","t":7.30,"v":0.0058},{"p":"Bu","t":7.60,"v":0.0110},{"p":"Bu","t":7.84,"v":0.0136},{"p":"Bu","t":8.02,"v":0.0133},{"p":"Bu","t":8.20,"v":0.0097},{"p":"Bu","t":8.45,"v":0.0020},{"p":"Bu","t":8.69,"v":-0.0041},{"p":"Bu","t":8.93,"v":-0.0062},{"p":"Bu","t":9.17,"v":-0.0057},{"p":"Bu","t":9.47,"v":-0.0053},{"p":"Bu","t":9.77,"v":-0.0053},{"p":"Bu","t":10.07,"v":-0.0057},{"p":"Bu","t":10.31,"v":-0.0096},{"p":"Bu","t":10.55,"v":-0.0167},{"p":"Bu","t":10.76,"v":-0.0210},{"p":"Bu","t":10.92,"v":-0.0212},{"p":"Bu","t":11.10,"v":-0.0167},{"p":"Bu","t":11.34,"v":-0.0068},{"p":"Bu","t":11.58,"v":0.0075},{"p":"Bu","t":11.82,"v":0.0240},{"p":"Bu","t":12.0,"v":0.0328},{"p":"Bu","t":12.18,"v":0.0356}
]
},
"bounds": "flush",
"align": "each",
"columns": 3,
"spacing": {"column": 93, "row": 102},
"concat": [
{"width": 552, "height": 190, "title": "a\u00a0 T≈5.4 ms\u00a0 (~5.6 cyc)", "view": {"fill": "#ecf0f1"},
 "layer": [
  {"data": {"values": [{}]}, "mark": {"type": "rule", "color": "#aaaaaa", "strokeWidth": 1.3}, "encoding": {"y": {"datum": 0, "type": "quantitative"}}},
  {"data": {"name": "marks"}, "transform": [{"filter": "datum.p === 'a'"}], "mark": {"type": "rule", "color": "#27ae60", "strokeDash": [5, 3], "strokeWidth": 1, "opacity": 0.5}, "encoding": {"x": {"field": "t", "type": "quantitative"}}},
  {"data": {"name": "wave"}, "transform": [{"filter": "datum.p === 'a'"}], "mark": {"type": "line", "color": "#27ae60", "strokeWidth": 1.6, "interpolate": "monotone"},
   "encoding": {"x": {"field": "t", "type": "quantitative", "scale": {"domain": [-1.5, 31.5], "nice": false, "zero": false}, "axis": {"values": [0, 5, 10, 15, 20, 25, 30], "format": "d", "title": "ms (relative, voicing onset +20 ms)"}},
    "y": {"field": "v", "type": "quantitative", "scale": {"domain": [-0.161, 0.151], "nice": false, "zero": false}, "axis": {"values": [-0.1, 0, 0.1], "format": ".1f", "title": ["Amplitude", "(vowel)"]}}}}
 ]},
{"width": 540, "height": 190, "title": "i\u00a0 T≈5.3 ms\u00a0 (~5.6 cyc)", "view": {"fill": "#ecf0f1"},
 "layer": [
  {"data": {"values": [{}]}, "mark": {"type": "rule", "color": "#aaaaaa", "strokeWidth": 1.3}, "encoding": {"y": {"datum": 0, "type": "quantitative"}}},
  {"data": {"name": "marks"}, "transform": [{"filter": "datum.p === 'i'"}], "mark": {"type": "rule", "color": "#2e86c1", "strokeDash": [5, 3], "strokeWidth": 1, "opacity": 0.5}, "encoding": {"x": {"field": "t", "type": "quantitative"}}},
  {"data": {"name": "wave"}, "transform": [{"filter": "datum.p === 'i'"}], "mark": {"type": "line", "color": "#2e86c1", "strokeWidth": 1.6, "interpolate": "linear"},
   "encoding": {"x": {"field": "t", "type": "quantitative", "scale": {"domain": [-1.5, 31.5], "nice": false, "zero": false}, "axis": {"values": [0, 5, 10, 15, 20, 25, 30], "format": "d", "title": "ms (relative, voicing onset +20 ms)"}},
    "y": {"field": "v", "type": "quantitative", "scale": {"domain": [-0.0278, 0.0476], "nice": false, "zero": false}, "axis": {"values": [-0.02, 0, 0.02, 0.04], "format": ".2f", "title": null}}}}
 ]},
{"width": 529, "height": 190, "title": "u\u00a0 T≈5.8 ms\u00a0 (~5.2 cyc)", "view": {"fill": "#ecf0f1"},
 "layer": [
  {"data": {"values": [{}]}, "mark": {"type": "rule", "color": "#aaaaaa", "strokeWidth": 1.3}, "encoding": {"y": {"datum": 0, "type": "quantitative"}}},
  {"data": {"name": "marks"}, "transform": [{"filter": "datum.p === 'u'"}], "mark": {"type": "rule", "color": "#e67e22", "strokeDash": [5, 3], "strokeWidth": 1, "opacity": 0.5}, "encoding": {"x": {"field": "t", "type": "quantitative"}}},
  {"data": {"name": "wave"}, "transform": [{"filter": "datum.p === 'u'"}], "mark": {"type": "line", "color": "#e67e22", "strokeWidth": 1.6, "interpolate": "monotone"},
   "encoding": {"x": {"field": "t", "type": "quantitative", "scale": {"domain": [-1.5, 31.5], "nice": false, "zero": false}, "axis": {"values": [0, 5, 10, 15, 20, 25, 30], "format": "d", "title": "ms (relative, voicing onset +20 ms)"}},
    "y": {"field": "v", "type": "quantitative", "scale": {"domain": [-0.0789, 0.088], "nice": false, "zero": false}, "axis": {"values": [-0.05, 0, 0.05], "format": ".2f", "title": null}}}}
 ]},
{"width": 552, "height": 190, "title": "pa/a\u00a0 T≈4.8 ms\u00a0 (~6.2 cyc)", "view": {"fill": "#e0f7fa"},
 "layer": [
  {"data": {"values": [{}]}, "mark": {"type": "rule", "color": "#aaaaaa", "strokeWidth": 1.3}, "encoding": {"y": {"datum": 0, "type": "quantitative"}}},
  {"data": {"name": "marks"}, "transform": [{"filter": "datum.p === 'Ca'"}], "mark": {"type": "rule", "color": "#27ae60", "strokeDash": [5, 3], "strokeWidth": 1, "opacity": 0.5}, "encoding": {"x": {"field": "t", "type": "quantitative"}}},
  {"data": {"name": "wave"}, "transform": [{"filter": "datum.p === 'Ca'"}], "mark": {"type": "line", "color": "#27ae60", "strokeWidth": 1.6, "interpolate": "monotone"},
   "encoding": {"x": {"field": "t", "type": "quantitative", "scale": {"domain": [-1.5, 31.5], "nice": false, "zero": false}, "axis": {"values": [0, 5, 10, 15, 20, 25, 30], "format": "d", "title": "ms (relative, voicing onset +20 ms)"}},
    "y": {"field": "v", "type": "quantitative", "scale": {"domain": [-0.0676, 0.0847], "nice": false, "zero": false}, "axis": {"values": [-0.05, 0, 0.05], "format": ".2f", "title": ["Amplitude", "(CV voiced)"]}}}}
 ]},
{"width": 540, "height": 190, "title": "pa/i\u00a0 T≈5.3 ms\u00a0 (~5.6 cyc)", "view": {"fill": "#e0f7fa"},
 "layer": [
  {"data": {"values": [{}]}, "mark": {"type": "rule", "color": "#aaaaaa", "strokeWidth": 1.3}, "encoding": {"y": {"datum": 0, "type": "quantitative"}}},
  {"data": {"name": "marks"}, "transform": [{"filter": "datum.p === 'Ci'"}], "mark": {"type": "rule", "color": "#2e86c1", "strokeDash": [5, 3], "strokeWidth": 1, "opacity": 0.5}, "encoding": {"x": {"field": "t", "type": "quantitative"}}},
  {"data": {"name": "wave"}, "transform": [{"filter": "datum.p === 'Ci'"}], "mark": {"type": "line", "color": "#2e86c1", "strokeWidth": 1.6, "interpolate": "linear"},
   "encoding": {"x": {"field": "t", "type": "quantitative", "scale": {"domain": [-1.5, 31.5], "nice": false, "zero": false}, "axis": {"values": [0, 5, 10, 15, 20, 25, 30], "format": "d", "title": "ms (relative, voicing onset +20 ms)"}},
    "y": {"field": "v", "type": "quantitative", "scale": {"domain": [-0.0315, 0.0392], "nice": false, "zero": false}, "axis": {"values": [-0.02, 0, 0.02], "format": ".2f", "title": null}}}}
 ]},
{"width": 529, "height": 190, "title": "pa/u\u00a0 T≈5.2 ms\u00a0 (~5.7 cyc)", "view": {"fill": "#e0f7fa"},
 "layer": [
  {"data": {"values": [{}]}, "mark": {"type": "rule", "color": "#aaaaaa", "strokeWidth": 1.3}, "encoding": {"y": {"datum": 0, "type": "quantitative"}}},
  {"data": {"name": "marks"}, "transform": [{"filter": "datum.p === 'Cu'"}], "mark": {"type": "rule", "color": "#e67e22", "strokeDash": [5, 3], "strokeWidth": 1, "opacity": 0.5}, "encoding": {"x": {"field": "t", "type": "quantitative"}}},
  {"data": {"name": "wave"}, "transform": [{"filter": "datum.p === 'Cu'"}], "mark": {"type": "line", "color": "#e67e22", "strokeWidth": 1.6, "interpolate": "monotone"},
   "encoding": {"x": {"field": "t", "type": "quantitative", "scale": {"domain": [-1.5, 31.5], "nice": false, "zero": false}, "axis": {"values": [0, 5, 10, 15, 20, 25, 30], "format": "d", "title": "ms (relative, voicing onset +20 ms)"}},
    "y": {"field": "v", "type": "quantitative", "scale": {"domain": [-0.0638, 0.0942], "nice": false, "zero": false}, "axis": {"values": [-0.05, 0, 0.05], "format": ".2f", "title": null}}}}
 ]},
{"width": 552, "height": 190, "title": "pa/a\u00a0 burst 12 ms", "view": {"fill": "#e8f5e9"},
 "layer": [
  {"data": {"values": [{}]}, "mark": {"type": "rule", "color": "#aaaaaa", "strokeWidth": 1.3}, "encoding": {"y": {"datum": 0, "type": "quantitative"}}},
  {"data": {"name": "marks"}, "transform": [{"filter": "datum.p === 'Ba'"}], "mark": {"type": "rule", "color": "#2ecc71", "strokeDash": [8, 5], "strokeWidth": 2.2}, "encoding": {"x": {"field": "t", "type": "quantitative"}}},
  {"data": {"name": "marks"}, "transform": [{"filter": "datum.p === 'Ba'"}], "mark": {"type": "text", "text": ["voicing", "onset"], "color": "#2ecc71", "fontSize": 11.5, "align": "left", "baseline": "top", "dx": 4, "dy": 2, "lineHeight": 14}, "encoding": {"x": {"field": "t", "type": "quantitative"}, "y": {"datum": 0.072, "type": "quantitative"}}},
  {"data": {"name": "wave"}, "transform": [{"filter": "datum.p === 'Ba'"}], "mark": {"type": "line", "color": "#27ae60", "strokeWidth": 1.6, "interpolate": "monotone"},
   "encoding": {"x": {"field": "t", "type": "quantitative", "scale": {"domain": [-1.62, 34.03], "nice": false, "zero": false}, "axis": {"values": [0, 5, 10, 15, 20, 25, 30], "format": "d", "title": "ms (0 = onset−5 ms)"}},
    "y": {"field": "v", "type": "quantitative", "scale": {"domain": [-0.0676, 0.072], "nice": false, "zero": false}, "axis": {"values": [-0.05, -0.025, 0, 0.025, 0.05], "format": ".3f", "title": ["Amplitude", "(burst)"]}}}}
 ]},
{"width": 540, "height": 190, "title": "pa/i\u00a0 burst 1 ms", "view": {"fill": "#e8f5e9"},
 "layer": [
  {"data": {"values": [{}]}, "mark": {"type": "rule", "color": "#aaaaaa", "strokeWidth": 1.3}, "encoding": {"y": {"datum": 0, "type": "quantitative"}}},
  {"data": {"name": "marks"}, "transform": [{"filter": "datum.p === 'Bi'"}], "mark": {"type": "rule", "color": "#2ecc71", "strokeDash": [8, 5], "strokeWidth": 2.2}, "encoding": {"x": {"field": "t", "type": "quantitative"}}},
  {"data": {"name": "marks"}, "transform": [{"filter": "datum.p === 'Bi'"}], "mark": {"type": "text", "text": ["voicing", "onset"], "color": "#2ecc71", "fontSize": 11.5, "align": "left", "baseline": "top", "dx": 4, "dy": 2, "lineHeight": 14}, "encoding": {"x": {"field": "t", "type": "quantitative"}, "y": {"datum": 0.0126, "type": "quantitative"}}},
  {"data": {"name": "wave"}, "transform": [{"filter": "datum.p === 'Bi'"}], "mark": {"type": "line", "color": "#2e86c1", "strokeWidth": 1.6, "interpolate": "linear"},
   "encoding": {"x": {"field": "t", "type": "quantitative", "scale": {"domain": [-1.02, 21.43], "nice": false, "zero": false}, "axis": {"values": [0, 2.5, 5, 7.5, 10, 12.5, 15, 17.5, 20], "format": ".1f", "title": "ms (0 = onset−5 ms)"}},
    "y": {"field": "v", "type": "quantitative", "scale": {"domain": [-0.0103, 0.0126], "nice": false, "zero": false}, "axis": {"values": [-0.01, -0.005, 0, 0.005, 0.01], "format": ".3f", "title": null}}}}
 ]},
{"width": 529, "height": 190, "title": "pa/u\u00a0 burst -8 ms", "view": {"fill": "#e8f5e9"},
 "layer": [
  {"data": {"values": [{}]}, "mark": {"type": "rule", "color": "#aaaaaa", "strokeWidth": 1.3}, "encoding": {"y": {"datum": 0, "type": "quantitative"}}},
  {"data": {"name": "marks"}, "transform": [{"filter": "datum.p === 'Bu'"}], "mark": {"type": "rule", "color": "#2ecc71", "strokeDash": [8, 5], "strokeWidth": 2.2}, "encoding": {"x": {"field": "t", "type": "quantitative"}}},
  {"data": {"name": "marks"}, "transform": [{"filter": "datum.p === 'Bu'"}], "mark": {"type": "text", "text": ["voicing", "onset"], "color": "#2ecc71", "fontSize": 11.5, "align": "left", "baseline": "top", "dx": 4, "dy": 2, "lineHeight": 14}, "encoding": {"x": {"field": "t", "type": "quantitative"}, "y": {"datum": 0.0383, "type": "quantitative"}}},
  {"data": {"name": "wave"}, "transform": [{"filter": "datum.p === 'Bu'"}], "mark": {"type": "line", "color": "#e67e22", "strokeWidth": 1.6, "interpolate": "monotone"},
   "encoding": {"x": {"field": "t", "type": "quantitative", "scale": {"domain": [-3.43, 12.93], "nice": false, "zero": false}, "axis": {"values": [-2, 0, 2, 4, 6, 8, 10, 12], "format": "d", "title": "ms (0 = onset−5 ms)"}},
    "y": {"field": "v", "type": "quantitative", "scale": {"domain": [-0.0245, 0.0383], "nice": false, "zero": false}, "axis": {"values": [-0.02, 0, 0.02], "format": ".2f", "title": null}}}}
 ]}
]
}
